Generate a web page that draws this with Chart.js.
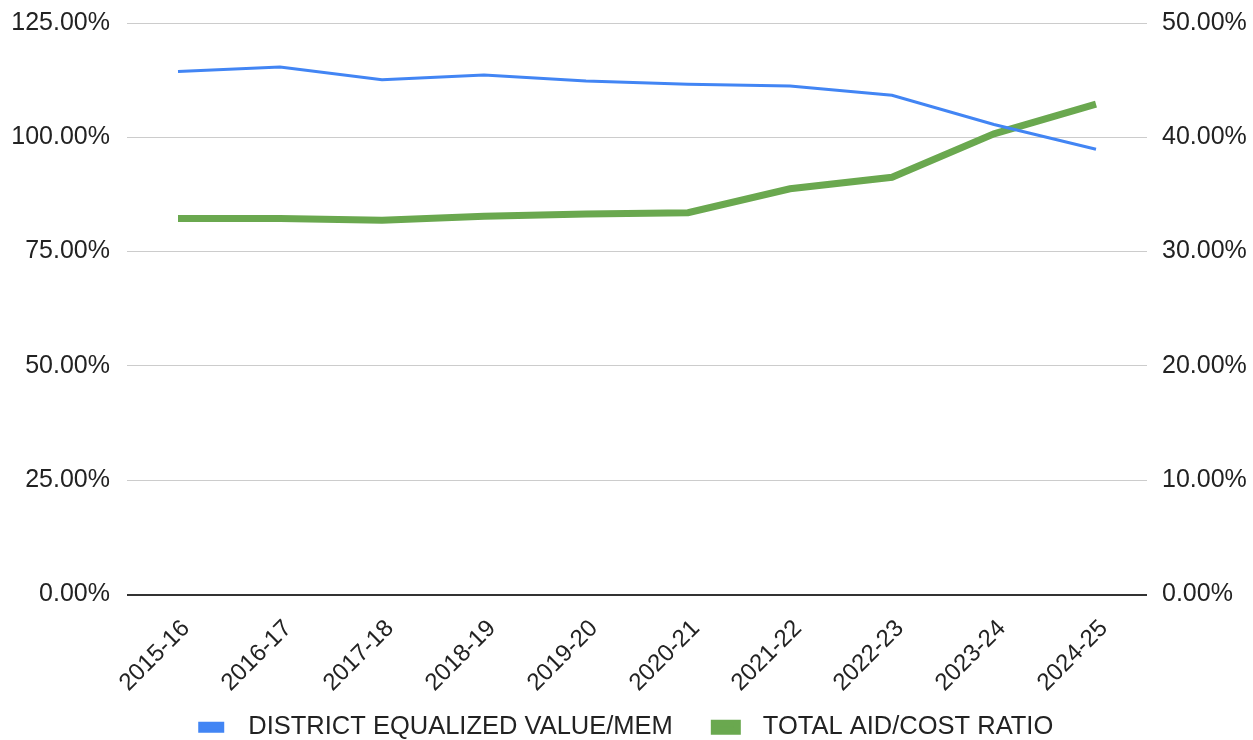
<!DOCTYPE html>
<html>
<head>
<meta charset="utf-8">
<script src="https://cdn.jsdelivr.net/npm/chart.js@4"></script>
<style>
  html, body { margin: 0; padding: 0; background: #fff; }
  #wrap { width: 1253px; height: 740px; }
</style>
</head>
<body>
<div id="wrap"><canvas id="ratioChart" width="1253" height="740"></canvas></div>
<script>
const years = ['2015-16', '2016-17', '2017-18', '2018-19', '2019-20', '2020-21', '2021-22', '2022-23', '2023-24', '2024-25'];
const equalizedValue = [114.4, 115.4, 112.6, 113.6, 112.3, 111.6, 111.2, 109.2, 102.8, 97.4];
const aidCostRatio = [32.9, 32.9, 32.75, 33.1, 33.3, 33.4, 35.5, 36.5, 40.3, 42.9];
const leftTicks = [0, 25, 50, 75, 100, 125];
const rightTicks = [0, 10, 20, 30, 40, 50];

Chart.defaults.font.family = '"Liberation Sans", Arial, sans-serif';
Chart.defaults.color = '#222';

const pct = v => v.toFixed(2) + '%';

// fixed side widths; let the top label overhang the plot area
function sideAxis(width) {
    return function (scale) {
        scale.width = width;
        scale.paddingTop = 0;
    };
}

const ctx = document.getElementById('ratioChart').getContext('2d');
const ratioChart = new Chart(ctx, {
    type: 'line',
    data: {
        labels: years,
        datasets: [{
            label: 'DISTRICT EQUALIZED VALUE/MEM',
            data: equalizedValue,
            borderColor: '#4285F4',
            backgroundColor: '#4285F4',
            borderWidth: 3,
            pointRadius: 0,
            tension: 0,
            yAxisID: 'y'
        }, {
            label: 'TOTAL AID/COST RATIO',
            data: aidCostRatio,
            borderColor: '#6AA84F',
            backgroundColor: '#6AA84F',
            borderWidth: 7,
            pointRadius: 0,
            tension: 0,
            yAxisID: 'y1'
        }]
    },
    options: {
        responsive: false,
        animation: false,
        layout: { padding: { top: 23, bottom: -10 } },
        scales: {
            x: {
                offset: true,
                grid: { display: false },
                border: { display: false },
                ticks: {
                    font: { size: 24 },
                    minRotation: 45,
                    maxRotation: 45,
                    padding: 12,
                    labelOffset: 8
                },
                afterFit: function (scale) { scale.height = 104; }
            },
            y: {
                position: 'left',
                min: 0,
                max: 125,
                afterBuildTicks: function (scale) {
                    scale.ticks = leftTicks.map(v => ({ value: v }));
                },
                grid: {
                    drawTicks: false,
                    color: c => c.tick && c.tick.value === 0 ? '#333' : '#ccc',
                    lineWidth: c => c.tick && c.tick.value === 0 ? 2 : 1
                },
                border: { display: false },
                ticks: {
                    font: { size: 25 },
                    padding: 17,
                    callback: pct
                },
                afterFit: sideAxis(127)
            },
            y1: {
                position: 'right',
                min: 0,
                max: 50,
                afterBuildTicks: function (scale) {
                    scale.ticks = rightTicks.map(v => ({ value: v }));
                },
                grid: { drawOnChartArea: false, drawTicks: false },
                border: { display: false },
                ticks: {
                    font: { size: 25 },
                    padding: 15,
                    callback: pct
                },
                afterFit: sideAxis(106)
            }
        },
        plugins: {
            legend: {
                position: 'bottom',
                labels: {
                    boxWidth: 23,
                    boxHeight: 8,
                    padding: 16,
                    font: { size: 25.5 },
                    color: '#222',
                    generateLabels: function (chart) {
                        // wider gaps: after each swatch, and between the two entries
                        const items = Chart.defaults.plugins.legend.labels.generateLabels(chart);
                        return items.map((item, i) => Object.assign(item, {
                            text: '\u2002' + item.text + (i < items.length - 1 ? '\u2003' : '')
                        }));
                    }
                }
            },
            tooltip: { enabled: false }
        }
    }
});
</script>
</body>
</html>
